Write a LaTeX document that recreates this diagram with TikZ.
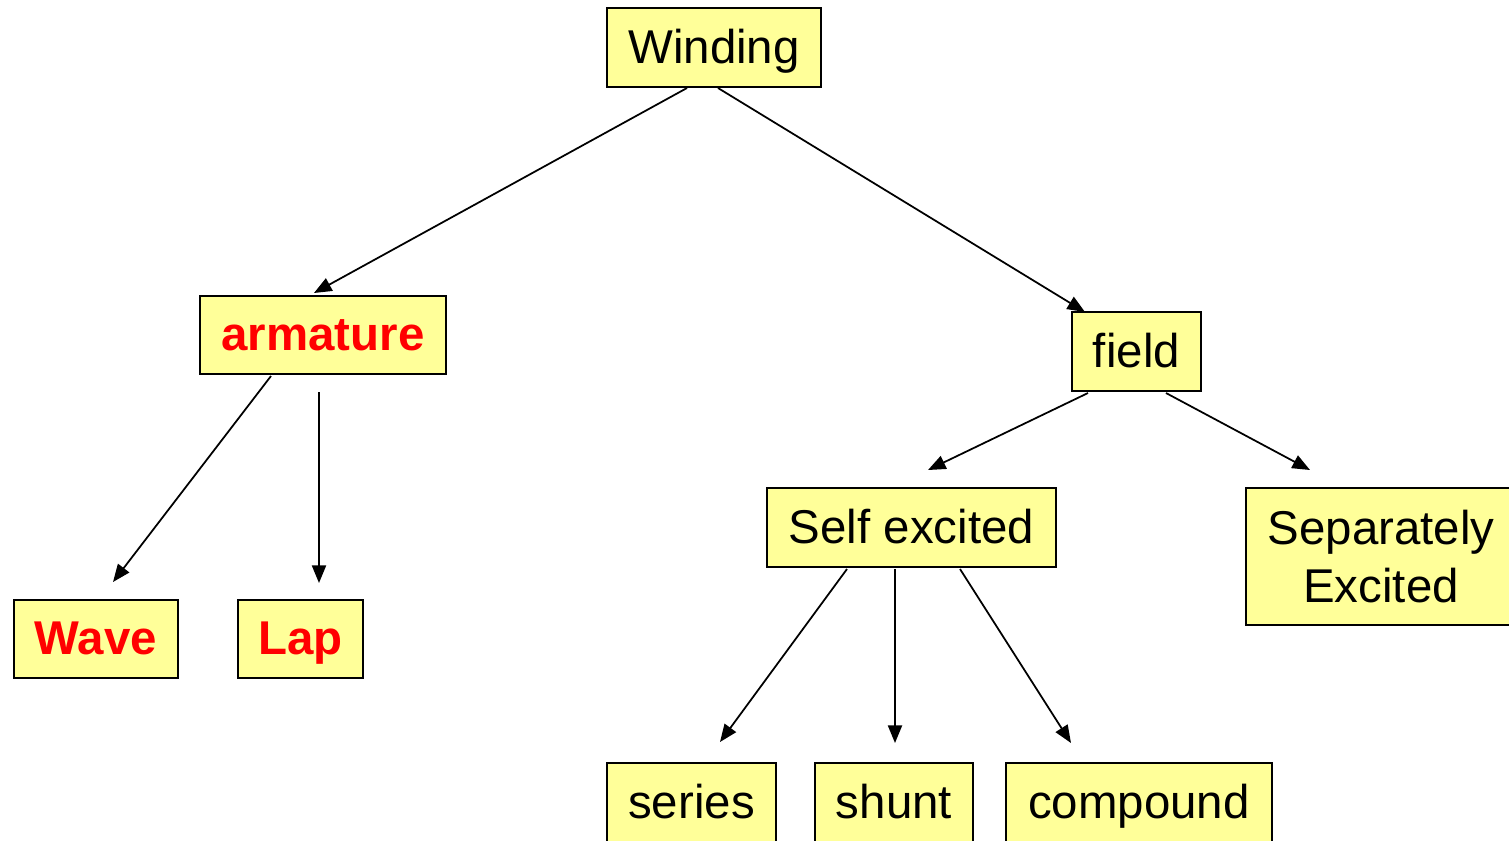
\documentclass[tikz,border=0pt]{standalone}
\usepackage{fontspec}
\setmainfont{Liberation Sans}
\usetikzlibrary{arrows.meta}
\definecolor{boxyellow}{RGB}{255,255,153}
\definecolor{labelred}{RGB}{255,0,0}
\tikzset{
  cell/.style={draw=black, line width=1.3pt, fill=boxyellow, inner sep=0pt,
    align=center, font=\fontsize{27}{32.5}\selectfont},
  box/.style={cell, text height=21pt, text depth=3pt},
  redbox/.style={box, text=labelred, font=\fontsize{27}{32.5}\selectfont\bfseries},
  arr/.style={-{Triangle[length=10pt,width=8pt]}, line width=1pt}
}
\begin{document}
\begin{tikzpicture}[x=0.02cm, y=-0.02cm]
            \useasboundingbox (0,0) rectangle (1509,840);
            \clip (0,0) rectangle (1509,840);
            % Boxes
            \node[box, minimum width=4.28cm, minimum height=1.58cm] (win) at (714,47.5) {Winding};
            \node[redbox, minimum width=4.92cm, minimum height=1.56cm] (arm) at (323,335) {armature};
            \node[box, minimum width=2.58cm, minimum height=1.58cm] (fld) at (1136.5,351.5) {field};
            \node[redbox, minimum width=3.28cm, minimum height=1.56cm] (wave) at (96,639) {Wave};
            \node[redbox, minimum width=2.50cm, minimum height=1.56cm] (lap) at (300.5,639) {Lap};
            \node[box, minimum width=5.78cm, minimum height=1.58cm] (self) at (911.5,527.5) {Self excited};
            \node[cell, minimum width=5.40cm, minimum height=2.74cm] (sep) at (1381,556.5) {Separately\\Excited};
            \node[box, minimum width=3.38cm, minimum height=1.58cm] (series) at (691.5,802.5) {series};
            \node[box, minimum width=3.16cm, minimum height=1.58cm] (shunt) at (894,802.5) {shunt};
            \node[box, minimum width=5.32cm, minimum height=1.58cm] (comp) at (1139,802.5) {compound};
            % Arrow ends
            \coordinate (winL) at (687,88);
            \coordinate (armT) at (314,293);
            \coordinate (winR) at (718,88);
            \coordinate (fldT) at (1085,312);
            \coordinate (armL) at (271,376);
            \coordinate (waveT) at (113,582);
            \coordinate (armB) at (319,392);
            \coordinate (lapT) at (319,583);
            \coordinate (fldL) at (1088,393);
            \coordinate (selfT) at (928,470);
            \coordinate (fldR) at (1166,393);
            \coordinate (sepT) at (1310,470);
            \coordinate (selfL) at (847,569);
            \coordinate (seriesT) at (720,742);
            \coordinate (selfB) at (895,569);
            \coordinate (shuntT) at (895,743);
            \coordinate (selfR) at (960,569);
            \coordinate (compT) at (1071,743);
            % Arrows
            \draw[arr] (winL) -- (armT);
            \draw[arr] (winR) -- (fldT);
            \draw[arr] (armL) -- (waveT);
            \draw[arr] (armB) -- (lapT);
            \draw[arr] (fldL) -- (selfT);
            \draw[arr] (fldR) -- (sepT);
            \draw[arr] (selfL) -- (seriesT);
            \draw[arr] (selfB) -- (shuntT);
            \draw[arr] (selfR) -- (compT);
        \end{tikzpicture}
\end{document}
